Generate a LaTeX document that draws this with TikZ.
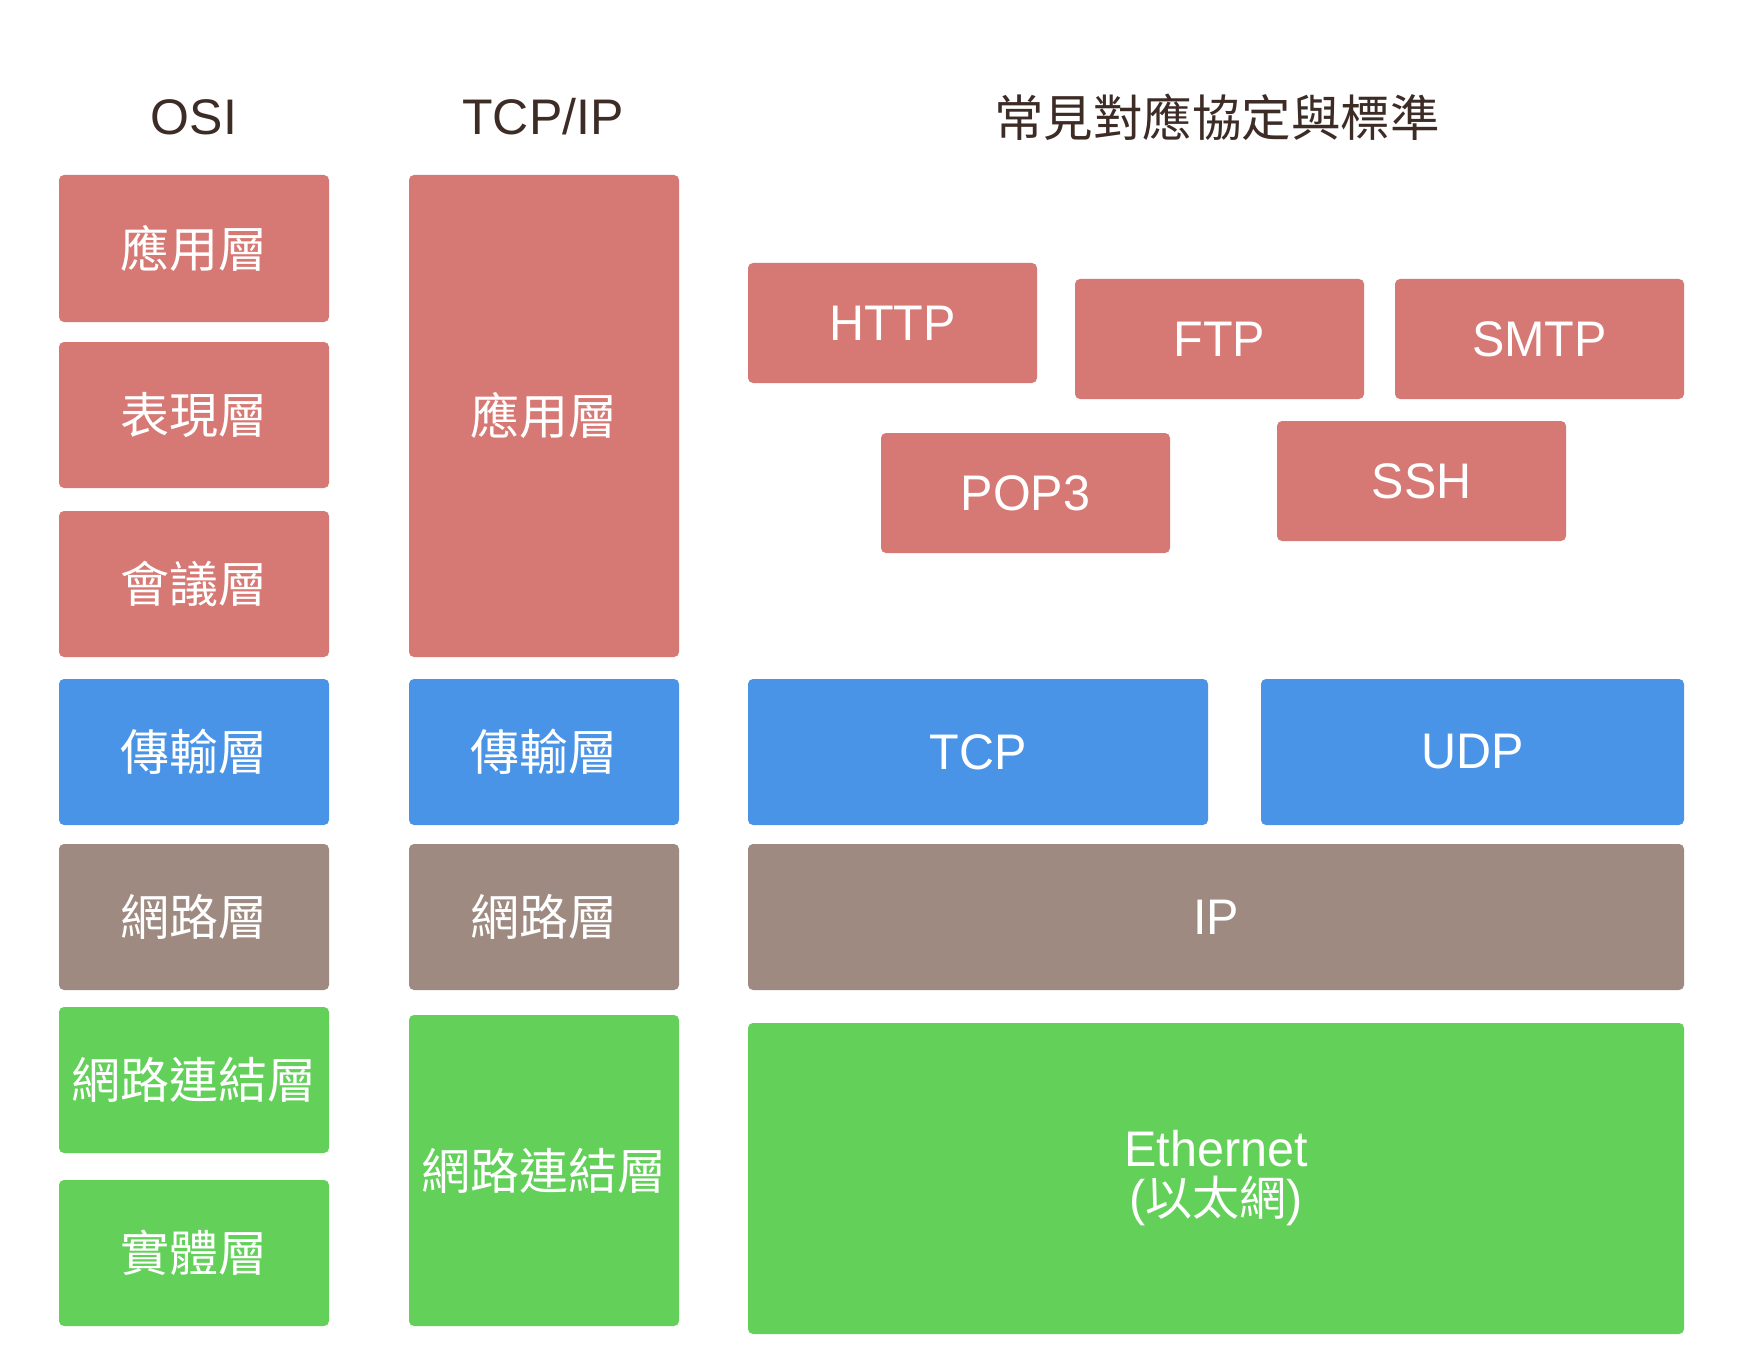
\documentclass[tikz,border=0pt]{standalone}
\usepackage{fontspec}
\setmainfont{Liberation Sans}
\newfontfamily\boxlat{Liberation Sans}[FakeStretch=0.97]
\newfontfamily\cjk{Noto Sans CJK TC}
\definecolor{cred}{HTML}{D67873}
\definecolor{cblue}{HTML}{4A94E8}
\definecolor{cbrown}{HTML}{9E8A80}
\definecolor{cgreen}{HTML}{63D05A}
\definecolor{ctitle}{HTML}{3D2B26}
\begin{document}
\begin{tikzpicture}[x=1pt,y=-1pt,
  blk/.style={rounded corners=5pt, inner sep=0pt, outer sep=0pt, anchor=north west, text=white, draw=none},
  redbox/.style={blk, fill=cred},
  bluebox/.style={blk, fill=cblue},
  brownbox/.style={blk, fill=cbrown},
  greenbox/.style={blk, fill=cgreen},
  cjklab/.style={font=\cjk\fontsize{49}{58}\selectfont},
  latlab/.style={font=\boxlat\fontsize{50}{50}\selectfont},
  ttl/.style={text=ctitle, inner sep=0pt, anchor=center},
  ttllat/.style={ttl, font=\fontsize{50}{60}\selectfont},
  ttlcjk/.style={ttl, font=\cjk\fontsize{49.5}{58}\selectfont}]
\useasboundingbox[fill=white] (0,0) rectangle (1742,1372);

% titles
\node[ttllat] (tosi) at (194,117) {OSI};
\node[ttllat] (ttcp) at (543,117) {TCP/IP};
\node[ttlcjk] (tstd) at (1217,117) {常見對應協定與標準};

% OSI column
\node[redbox,cjklab,minimum width=270pt,minimum height=147pt] (o1) at (59,175) {應用層};
\node[redbox,cjklab,minimum width=270pt,minimum height=146pt] (o2) at (59,342) {表現層};
\node[redbox,cjklab,minimum width=270pt,minimum height=146pt] (o3) at (59,511) {會議層};
\node[bluebox,cjklab,minimum width=270pt,minimum height=146pt] (o4) at (59,679) {傳輸層};
\node[brownbox,cjklab,minimum width=270pt,minimum height=146pt] (o5) at (59,844) {網路層};
\node[greenbox,cjklab,minimum width=270pt,minimum height=146pt] (o6) at (59,1007) {網路連結層};
\node[greenbox,cjklab,minimum width=270pt,minimum height=146pt] (o7) at (59,1180) {實體層};

% TCP/IP column
\node[redbox,cjklab,minimum width=270pt,minimum height=482pt] (t1) at (409,175) {應用層};
\node[bluebox,cjklab,minimum width=270pt,minimum height=146pt] (t2) at (409,679) {傳輸層};
\node[brownbox,cjklab,minimum width=270pt,minimum height=146pt] (t3) at (409,844) {網路層};
\node[greenbox,cjklab,minimum width=270pt,minimum height=311pt] (t4) at (409,1015) {網路連結層};

% protocols
\node[redbox,latlab,minimum width=289pt,minimum height=120pt] (http) at (748,263) {HTTP};
\node[redbox,latlab,minimum width=289pt,minimum height=120pt] (ftp) at (1075,279) {FTP};
\node[redbox,latlab,minimum width=289pt,minimum height=120pt] (smtp) at (1395,279) {SMTP};
\node[redbox,latlab,minimum width=289pt,minimum height=120pt] (pop) at (881,433) {POP3};
\node[redbox,latlab,minimum width=289pt,minimum height=120pt] (ssh) at (1277,421) {SSH};
\node[bluebox,latlab,minimum width=460pt,minimum height=146pt] (tcp) at (748,679) {TCP};
\node[bluebox,latlab,minimum width=423pt,minimum height=146pt] (udp) at (1261,679) {UDP};
\node[brownbox,latlab,minimum width=936pt,minimum height=146pt] (ip) at (748,844) {IP};
\node[greenbox,latlab,align=center,minimum width=936pt,minimum height=311pt] (eth) at (748,1023) {Ethernet\\[-1pt]({\cjk\fontsize{47}{50}\selectfont 以太網})};
\end{tikzpicture}
\end{document}
